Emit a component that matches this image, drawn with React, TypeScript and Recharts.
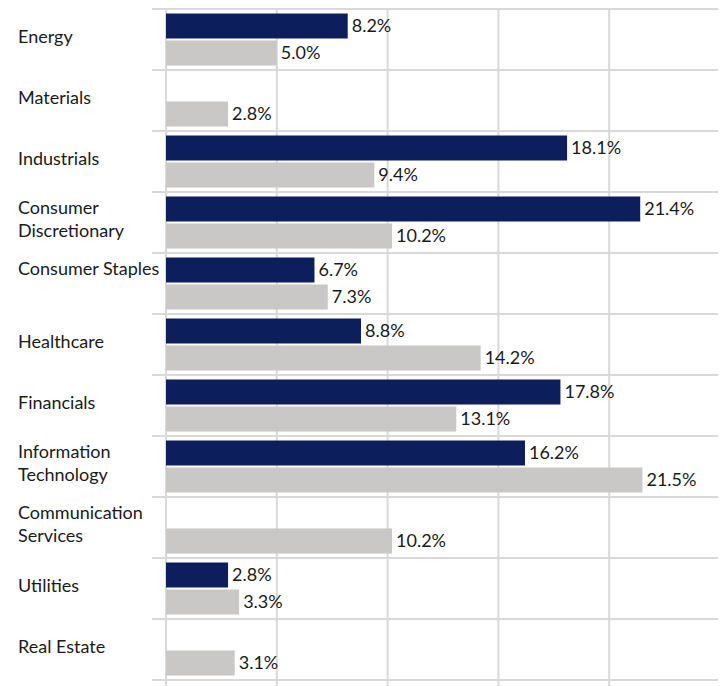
import React from "react";
import { BarChart, Bar, XAxis, YAxis, CartesianGrid, LabelList } from "recharts";

const CATEGORIES = [
  "Energy",
  "Materials",
  "Industrials",
  "Consumer Discretionary",
  "Consumer Staples",
  "Healthcare",
  "Financials",
  "Information Technology",
  "Communication Services",
  "Utilities",
  "Real Estate",
];
const TICK_LABELS = [
  "Energy",
  "Materials",
  "Industrials",
  "Consumer\nDiscretionary",
  "Consumer Staples\n",
  "Healthcare",
  "Financials",
  "Information\nTechnology",
  "Communication\nServices",
  "Utilities",
  "Real Estate",
];
const PORTFOLIO = [8.2, null, 18.1, 21.4, 6.7, 8.8, 17.8, 16.2, null, 2.8, null];
const BENCHMARK = [5.0, 2.8, 9.4, 10.2, 7.3, 14.2, 13.1, 21.5, 10.2, 3.3, 3.1];
const X_TICKS = [0, 5, 10, 15, 20, 25];
const X_DOMAIN: [number, number] = [0, 25];

const data = CATEGORIES.map((name, i) => ({
  name,
  portfolio: PORTFOLIO[i],
  benchmark: BENCHMARK[i],
}));

const FONT = "Lato, 'Open Sans', sans-serif";
const FONT_SIZE = 18;
const TEXT_COLOR = "#1a1a1a";
const GRID_COLOR = "#d9d9d9";
const NAVY = "#0c1f5c";
const GRAY = "#c9c8c6";

const CatTick = (props: any) => {
  const { y, index } = props;
  const idx = props.payload && typeof props.payload.index === "number" ? props.payload.index : index;
  const lines = (TICK_LABELS[idx] ?? String(props.payload?.value ?? "")).split("\n");
  const offsets = lines.length === 1 ? [3] : [-9, 14.5];
  return (
    <g>
      {lines.map((ln: string, i: number) => (
        <text
          key={i}
          x={10}
          y={y + offsets[i]}
          textAnchor="start"
          fontFamily={FONT}
          fontSize={FONT_SIZE}
          fill={TEXT_COLOR}
        >
          {ln}
        </text>
      ))}
    </g>
  );
};

const fmt = (v: any) => (v == null ? "" : `${Number(v).toFixed(1)}%`);

export default function App() {
  return (
    <BarChart
      width={718}
      height={678}
      data={data}
      layout="vertical"
      margin={{ top: 1, right: 6, bottom: 0, left: 0 }}
      barCategoryGap={4.5}
      barGap={2}
    >
      <CartesianGrid
        stroke={GRID_COLOR}
        strokeWidth={2}
        horizontalCoordinatesGenerator={({ offset }: any) =>
          Array.from(
            { length: CATEGORIES.length + 1 },
            (_, i) => offset.top + (i * offset.height) / CATEGORIES.length
          )
        }
        verticalCoordinatesGenerator={({ offset }: any) =>
          X_TICKS.map(
            (t) =>
              offset.left +
              ((t - X_DOMAIN[0]) / (X_DOMAIN[1] - X_DOMAIN[0])) * offset.width
          )
        }
        horizontal={(p: any) => (
          <line
            key={`h-${p.index}`}
            x1={p.x1 - 14}
            x2={p.x2}
            y1={p.y1}
            y2={p.y2}
            stroke={GRID_COLOR}
            strokeWidth={2}
          />
        )}
        vertical={(p: any) => (
          <line
            key={`v-${p.index}`}
            x1={p.x1}
            x2={p.x2}
            y1={p.y1}
            y2={p.y2 + 6}
            stroke={GRID_COLOR}
            strokeWidth={2}
          />
        )}
      />
      <XAxis
        type="number"
        domain={X_DOMAIN}
        ticks={X_TICKS}
        tick={false}
        axisLine={false}
        tickLine={false}
        height={6}
      />
      <YAxis
        type="category"
        dataKey="name"
        width={158}
        axisLine={false}
        tickLine={false}
        tick={<CatTick />}
        interval={0}
      />
      <Bar dataKey="portfolio" fill={NAVY} isAnimationActive={false}>
        <LabelList
          dataKey="portfolio"
          position="right"
          offset={4}
          formatter={fmt}
          fill={TEXT_COLOR}
          fontFamily={FONT}
          fontSize={FONT_SIZE}
        />
      </Bar>
      <Bar dataKey="benchmark" fill={GRAY} isAnimationActive={false}>
        <LabelList
          dataKey="benchmark"
          position="right"
          offset={4}
          formatter={fmt}
          fill={TEXT_COLOR}
          fontFamily={FONT}
          fontSize={FONT_SIZE}
        />
      </Bar>
    </BarChart>
  );
}
